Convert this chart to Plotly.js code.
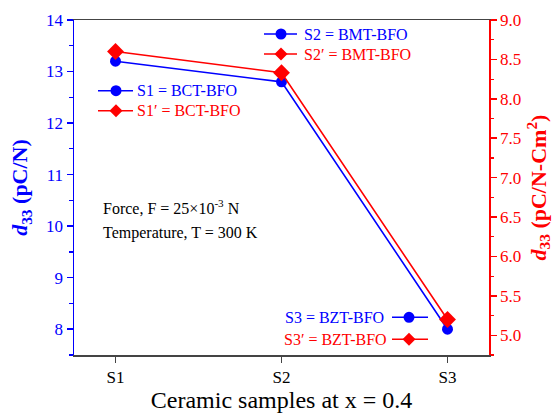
<!DOCTYPE html>
<html>
<head>
<meta charset="utf-8">
<script src="https://cdn.plot.ly/plotly-3.0.1.min.js"></script>
<style>
  html, body { margin: 0; padding: 0; background: #fff; }
  #chart { width: 555px; height: 413px; }
</style>
</head>
<body>
<div id="chart"></div>
<script>
// Ceramic samples and their piezoelectric coefficients
const samples = ['S1', 'S2', 'S3'];
const sampleIndex = [0, 1, 2];
const d33 = [13.2, 12.8, 8.0];          // pC/N, left axis
const d33Area = [8.60, 8.33, 5.20];     // pC/N-Cm^2, right axis
const namesBlue = ['S1 = BCT-BFO', 'S2 = BMT-BFO', 'S3 = BZT-BFO'];
const namesRed = ['S1\u2032 = BCT-BFO', 'S2\u2032 = BMT-BFO', 'S3\u2032 = BZT-BFO'];

const BLUE = '#0000FF';
const RED = '#FF0000';
const FONT = 'Liberation Serif, Times New Roman, serif';

const W = 555, H = 413;
const M = { l: 74, r: 66, t: 20, b: 58 };
const PW = W - M.l - M.r, PH = H - M.t - M.b;
const px = X => (X - M.l) / PW;
const py = Y => (H - M.b - Y) / PH;

const traces = [
  {
    x: sampleIndex, y: d33, type: 'scatter', mode: 'lines+markers',
    line: { color: BLUE, width: 1.6 },
    marker: { symbol: 'circle', size: 11, color: BLUE },
    yaxis: 'y', showlegend: false, hoverinfo: 'y'
  },
  {
    x: sampleIndex, y: d33Area, type: 'scatter', mode: 'lines+markers',
    line: { color: RED, width: 1.6 },
    marker: { symbol: 'diamond', size: 13, color: RED },
    yaxis: 'y2', showlegend: false, hoverinfo: 'y'
  }
];

// Key entries beside the lines
const keys = [
  { x0: 98, x1: 133, mx: 116, y: 90.7, color: BLUE, sym: 'circle', text: namesBlue[0], tx: 135, anchor: 'left' },
  { x0: 98, x1: 133, mx: 116, y: 110.7, color: RED, sym: 'diamond', text: namesRed[0], tx: 135, anchor: 'left' },
  { x0: 264, x1: 297, mx: 281, y: 34, color: BLUE, sym: 'circle', text: namesBlue[1], tx: 302, anchor: 'left' },
  { x0: 264, x1: 297, mx: 281, y: 54, color: RED, sym: 'diamond', text: namesRed[1], tx: 302, anchor: 'left' },
  { x0: 392, x1: 428, mx: 409, y: 317.3, color: BLUE, sym: 'circle', text: namesBlue[2], tx: 386, anchor: 'right' },
  { x0: 392, x1: 428, mx: 409, y: 339.3, color: RED, sym: 'diamond', text: namesRed[2], tx: 389, anchor: 'right' }
];

const shapes = [];
const annotations = [];
keys.forEach(k => {
  shapes.push({
    type: 'line', xref: 'paper', yref: 'paper',
    x0: px(k.x0), x1: px(k.x1), y0: py(k.y), y1: py(k.y),
    line: { color: k.color, width: 1.6 }
  });
  if (k.sym === 'circle') {
    shapes.push({
      type: 'circle', xref: 'paper', yref: 'paper',
      xsizemode: 'pixel', ysizemode: 'pixel',
      xanchor: px(k.mx), yanchor: py(k.y),
      x0: -5.5, x1: 5.5, y0: -5.5, y1: 5.5,
      fillcolor: k.color, line: { width: 0 }
    });
  } else {
    shapes.push({
      type: 'path', xref: 'paper', yref: 'paper',
      xsizemode: 'pixel', ysizemode: 'pixel',
      xanchor: px(k.mx), yanchor: py(k.y),
      path: 'M -6.5 0 L 0 6.5 L 6.5 0 L 0 -6.5 Z',
      fillcolor: k.color, line: { width: 0 }
    });
  }
  annotations.push({
    xref: 'paper', yref: 'paper', x: px(k.tx), y: py(k.y),
    xanchor: k.anchor, yanchor: 'middle', showarrow: false,
    text: k.text, font: { family: FONT, size: 16, color: k.color }
  });
});

annotations.push({
  xref: 'paper', yref: 'paper', x: px(101), y: py(207),
  xanchor: 'left', yanchor: 'middle', showarrow: false,
  text: 'Force, F = 25\u00d710<sup>-3</sup> N',
  font: { family: FONT, size: 16, color: '#000' }
});
annotations.push({
  xref: 'paper', yref: 'paper', x: px(101), y: py(233),
  xanchor: 'left', yanchor: 'middle', showarrow: false,
  text: 'Temperature, T = 300 K',
  font: { family: FONT, size: 16, color: '#000' }
});

const layout = {
  width: W, height: H,
  margin: M,
  paper_bgcolor: '#fff', plot_bgcolor: '#fff',
  font: { family: FONT, size: 17, color: '#000' },
  showlegend: false,
  xaxis: {
    range: [-0.25, 2.25],
    tickmode: 'array', tickvals: sampleIndex, ticktext: samples,
    ticks: 'outside', ticklen: 6, tickwidth: 1.5, tickcolor: '#444',
    showline: true, linecolor: '#444', linewidth: 1.5, mirror: true,
    showgrid: false, zeroline: false,
    tickfont: { family: FONT, size: 17, color: '#000' },
    title: { text: 'Ceramic samples at x = 0.4', font: { family: FONT, size: 24, color: '#000' }, standoff: 12 }
  },
  yaxis: {
    range: [7.5, 14], dtick: 1, tick0: 8,
    ticks: 'outside', ticklen: 6, tickwidth: 1.5, tickcolor: BLUE,
    minor: { dtick: 0.5, ticks: 'outside', ticklen: 3.5, tickwidth: 1.2, tickcolor: BLUE, showgrid: false },
    showline: true, linecolor: BLUE, linewidth: 1.5,
    showgrid: false, zeroline: false,
    tickfont: { family: FONT, size: 17, color: BLUE },
    title: { text: '<b><i>d</i><sub>33</sub> (pC/N)</b>', font: { family: FONT, size: 22, color: BLUE }, standoff: 12 }
  },
  yaxis2: {
    overlaying: 'y', side: 'right',
    range: [4.75, 9.0], dtick: 0.5, tick0: 5, tickformat: '.1f',
    ticks: 'outside', ticklen: 6, tickwidth: 1.5, tickcolor: RED,
    minor: { dtick: 0.25, ticks: 'outside', ticklen: 3.5, tickwidth: 1.2, tickcolor: RED, showgrid: false },
    showline: true, linecolor: RED, linewidth: 1.5,
    showgrid: false, zeroline: false,
    tickfont: { family: FONT, size: 17, color: RED },
    title: { text: '<b><i>d</i><sub>33</sub> (pC/N-Cm<sup>2</sup>)</b>', font: { family: FONT, size: 22, color: RED }, standoff: 10 }
  },
  shapes: shapes,
  annotations: annotations
};

Plotly.newPlot('chart', traces, layout, { displayModeBar: false, staticPlot: true });
</script>
</body>
</html>
